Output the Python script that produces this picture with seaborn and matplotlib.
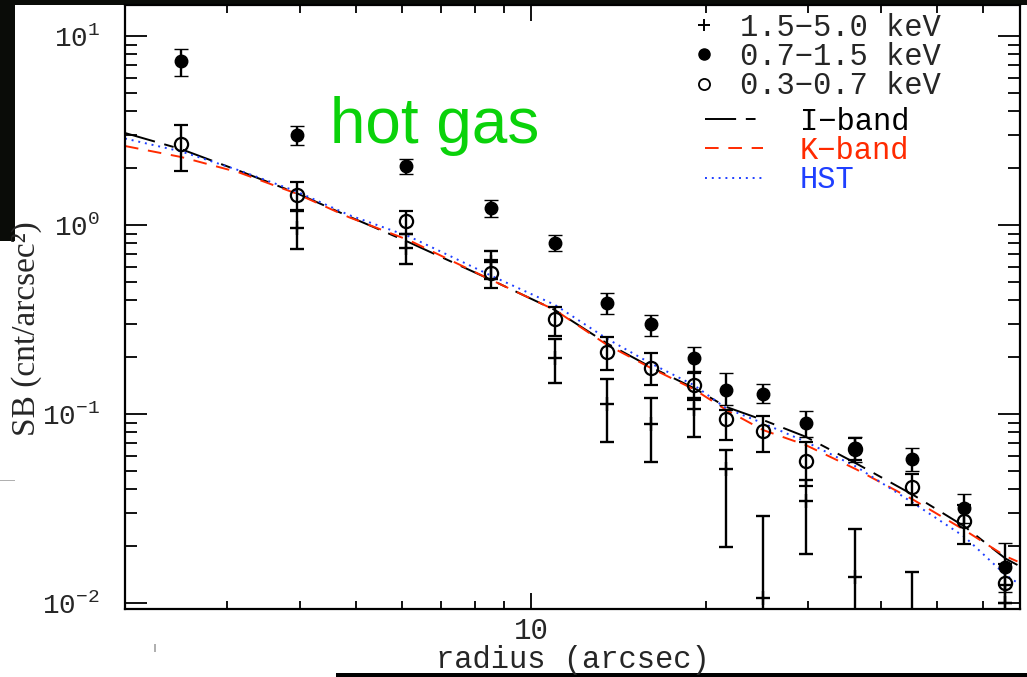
import numpy as np
import pandas as pd
import matplotlib
matplotlib.use("Agg")
import matplotlib.pyplot as plt
import seaborn as sns
from matplotlib.lines import Line2D
from matplotlib.patches import Rectangle
from matplotlib.ticker import LogLocator, FixedLocator, FuncFormatter, NullFormatter

nan = np.nan

# ---------------- data ----------------
radius = [2.5, 3.95, 6.1, 8.55, 11.0, 13.5, 16.1, 19.1, 21.7, 25.1, 29.7, 36.1, 45.3, 55.6, 65.4]

# 0.7-1.5 keV (filled circles)
sb_mid    = [7.35, 3.00, 2.05, 1.235, 0.806, 0.388, 0.298, 0.199, 0.134, 0.127, 0.0893, 0.0659, 0.0578, 0.0317, 0.01545]
sb_mid_lo = [6.17, 2.65, 1.86, 1.107, 0.731, 0.337, 0.260, 0.169, 0.112, 0.114, 0.076, 0.056, 0.0501, 0.0265, 0.0115]
sb_mid_hi = [8.51, 3.34, 2.23, 1.36, 0.885, 0.435, 0.333, 0.227, 0.164, 0.145, 0.1037, 0.0759, 0.0659, 0.0377, 0.0209]

# 0.3-0.7 keV (open circles)
sb_soft    = [2.67, 1.44, 1.05, 0.555, 0.317, 0.214, 0.176, 0.142, 0.094, 0.0817, 0.0564, 0.065, 0.0409, 0.0273, 0.0128]
sb_soft_lo = [1.94, 1.20, 0.90, 0.466, 0.259, 0.171, 0.1424, 0.1186, 0.0728, 0.0627, 0.0416, 0.057, 0.033, 0.0205, 0.0100]
sb_soft_hi = [3.38, 1.69, 1.19, 0.654, 0.370, 0.2545, 0.2095, 0.164, 0.105, 0.0976, 0.0714, 0.075, 0.0482, 0.033, 0.0160]

# 1.5-5.0 keV (plus signs)
sb_hard    = [nan, 0.96, 0.753, 0.636, 0.199, 0.1125, 0.0885, 0.106, 0.051, 0.0106, 0.0347, 0.0138, 0.008, nan, 0.0100]
sb_hard_lo = [nan, 0.743, 0.624, 0.52, 0.1465, 0.0711, 0.056, 0.0753, 0.0199, 0.003, 0.0182, 0.004, 0.002, nan, 0.005]
sb_hard_hi = [nan, 1.19, 0.893, 0.728, 0.250, 0.153, 0.121, 0.122, 0.0646, 0.029, 0.045, 0.0247, 0.0146, nan, 0.0125]

# optical model profiles
model_r = [2.0, 2.5, 3.14, 3.94, 4.86, 6.17, 8.57, 11.0, 13.5, 16.1, 19.1, 21.7, 25.1, 29.7, 36.3, 45.6, 55.8, 65.6, 68.8]
iband   = [3.07, 2.52, 1.94, 1.48, 1.11, 0.81, 0.51, 0.355, 0.237, 0.177, 0.137, 0.109, 0.093, 0.0759, 0.0548, 0.0372, 0.0254, 0.0172, 0.0159]
kband   = [2.62, 2.29, 1.90, 1.47, 1.10, 0.83, 0.51, 0.355, 0.233, 0.175, 0.135, 0.105, 0.0823, 0.0686, 0.051, 0.0351, 0.0243, 0.0177, 0.0166]
hst     = [2.87, 2.45, 1.95, 1.51, 1.13, 0.87, 0.537, 0.378, 0.251, 0.185, 0.142, 0.107, 0.0894, 0.0714, 0.0527, 0.0337, 0.0224, 0.0141, 0.0128]

band_labels  = ["1.5\u22125.0 keV", "0.7\u22121.5 keV", "0.3\u22120.7 keV"]
model_labels = ["I\u2212band", "K\u2212band", "HST"]

RED = "#ff2a00"
BLUE = "#1f3fff"
GREEN = "#0ad20a"

# ---------------- figure ----------------
sns.set_style("ticks")
plt.rcParams["font.family"] = ["Liberation Mono", "DejaVu Sans"]
plt.rcParams["mathtext.fontset"] = "custom"
plt.rcParams["mathtext.rm"] = "Liberation Mono"
plt.rcParams["mathtext.it"] = "Liberation Mono"
plt.rcParams["mathtext.bf"] = "Liberation Mono"

fig = plt.figure(figsize=(10.27, 6.77), dpi=100, facecolor="white")
ax = fig.add_axes([125 / 1027, (677 - 609) / 677, (1020 - 125) / 1027, (609 - 5) / 677])
ax.set_xscale("log")
ax.set_yscale("log")

# model curves via seaborn
models = pd.DataFrame({
    "r": model_r * 3,
    "sb": iband + kband + hst,
    "model": [model_labels[0]] * len(model_r) + [model_labels[1]] * len(model_r) + [model_labels[2]] * len(model_r),
})
sns.lineplot(data=models, x="r", y="sb", hue="model", style="model",
             palette={model_labels[0]: "black", model_labels[1]: RED, model_labels[2]: BLUE},
             dashes={model_labels[0]: (16, 5, 5, 5), model_labels[1]: (7, 5), model_labels[2]: (1, 2.5)},
             linewidth=1.4, legend=False, ax=ax, sort=True, estimator=None, zorder=2)

def asym(y, lo, hi):
    y = np.asarray(y, float)
    return np.vstack([y - np.asarray(lo, float), np.asarray(hi, float) - y])

eb_kw = dict(ecolor="black", elinewidth=1.7, capsize=5, capthick=1.7, linestyle="none", zorder=3)
ax.errorbar(radius, sb_hard, yerr=asym(sb_hard, sb_hard_lo, sb_hard_hi), fmt="+",
            color="black", ms=10, mew=1.7, **eb_kw)
ax.errorbar(radius, sb_soft, yerr=asym(sb_soft, sb_soft_lo, sb_soft_hi), fmt="o",
            mfc="none", mec="black", ms=9.5, mew=1.6, **eb_kw)
ax.errorbar(radius, sb_mid, yerr=asym(sb_mid, sb_mid_lo, sb_mid_hi), fmt="o",
            mfc="black", mec="black", ms=9, mew=1.0, **eb_kw)

ax.set_xlim(2.0, 69.5)
ax.set_ylim(0.0093, 14.6)

# ticks
ax.xaxis.set_major_locator(FixedLocator([10]))
ax.xaxis.set_major_formatter(FuncFormatter(lambda v, p: "10"))
ax.xaxis.set_minor_locator(LogLocator(base=10, subs=np.arange(2, 10), numticks=20))
ax.xaxis.set_minor_formatter(NullFormatter())
ax.yaxis.set_major_locator(FixedLocator([0.01, 0.1, 1, 10]))
ax.yaxis.set_major_formatter(FuncFormatter(lambda v, p: r"$\mathrm{10^{%d}}$" % int(round(np.log10(v)))))
ax.yaxis.set_minor_locator(LogLocator(base=10, subs=np.arange(2, 10), numticks=20))
ax.yaxis.set_minor_formatter(NullFormatter())

ax.tick_params(axis="both", which="both", direction="in", top=True, right=True, color="black", width=1.3)
ax.tick_params(axis="y", which="major", length=16, pad=18, labelsize=20)
ax.tick_params(axis="y", which="minor", length=8.5)
ax.tick_params(axis="x", which="major", length=11.5, pad=6, labelsize=21)
ax.tick_params(axis="x", which="minor", length=6)
for s in ax.spines.values():
    s.set_color("black")
    s.set_linewidth(1.6)

ax.set_xlabel("radius (arcsec)", fontsize=22)
ax.xaxis.set_label_coords(0.5, -(660 - 609) / 604)
ax.xaxis.label.set_verticalalignment("center")
ax.set_ylabel("SB (cnt/arcsec\u00b2)", fontsize=24, family=["Liberation Serif", "DejaVu Sans"])
ax.yaxis.set_label_coords(-(125 - 27) / 895, 0.465)
ax.yaxis.label.set_verticalalignment("center")

ax.text((330 - 125) / 895, (609 - 143) / 604, "hot gas", transform=ax.transAxes,
        fontsize=46, color=GREEN, family=["Liberation Sans", "DejaVu Sans"], va="baseline", ha="left")

# legends
h1 = [Line2D([], [], marker="+", ls="none", color="black", ms=9, mew=1.4),
      Line2D([], [], marker="o", ls="none", color="black", ms=8),
      Line2D([], [], marker="o", ls="none", mfc="none", mec="black", ms=8, mew=1.3)]
leg1 = ax.legend(h1, band_labels, loc="center left",
                 bbox_to_anchor=((690 - 125) / 895, (609 - 57) / 604),
                 frameon=False, fontsize=22, handlelength=0.9, handletextpad=0.75,
                 labelspacing=-0.02, borderpad=0, borderaxespad=0)
ax.add_artist(leg1)
h2 = [Line2D([], [], color="black", lw=1.4, ls=(0, (16, 5, 5, 5))),
      Line2D([], [], color=RED, lw=1.4, ls=(0, (7, 5))),
      Line2D([], [], color=BLUE, lw=1.4, ls=(0, (1, 2.5)))]
ax.legend(h2, model_labels, loc="center left",
          bbox_to_anchor=((705 - 125) / 895, (609 - 151) / 604),
          frameon=False, fontsize=22, handlelength=1.9, handletextpad=1.2,
          labelspacing=-0.02, borderpad=0, borderaxespad=0,
          labelcolor=["black", RED, BLUE])

# screenshot frame decorations
fig.add_artist(Rectangle((0, 1 - 5 / 677), 1, 5 / 677, transform=fig.transFigure,
                         facecolor="#0a0c08", edgecolor="none", zorder=0))
fig.add_artist(Rectangle((0, 1 - 241 / 677), 15 / 1027, 241 / 677, transform=fig.transFigure,
                         facecolor="#0a0c08", edgecolor="none", zorder=0))
fig.add_artist(Rectangle((336 / 1027, 0), 1 - 336 / 1027, 4 / 677, transform=fig.transFigure,
                         facecolor="black", edgecolor="none", zorder=0))
fig.add_artist(Rectangle((0, 1 - 481 / 677), 15 / 1027, 1.2 / 677, transform=fig.transFigure,
                         facecolor="#b0b0b0", edgecolor="none", zorder=0))
fig.add_artist(Rectangle((154 / 1027, 1 - 652 / 677), 1.5 / 1027, 8 / 677, transform=fig.transFigure,
                         facecolor="#b0b0b0", edgecolor="none", zorder=0))

fig.savefig("out.png", dpi=100, facecolor="white")
